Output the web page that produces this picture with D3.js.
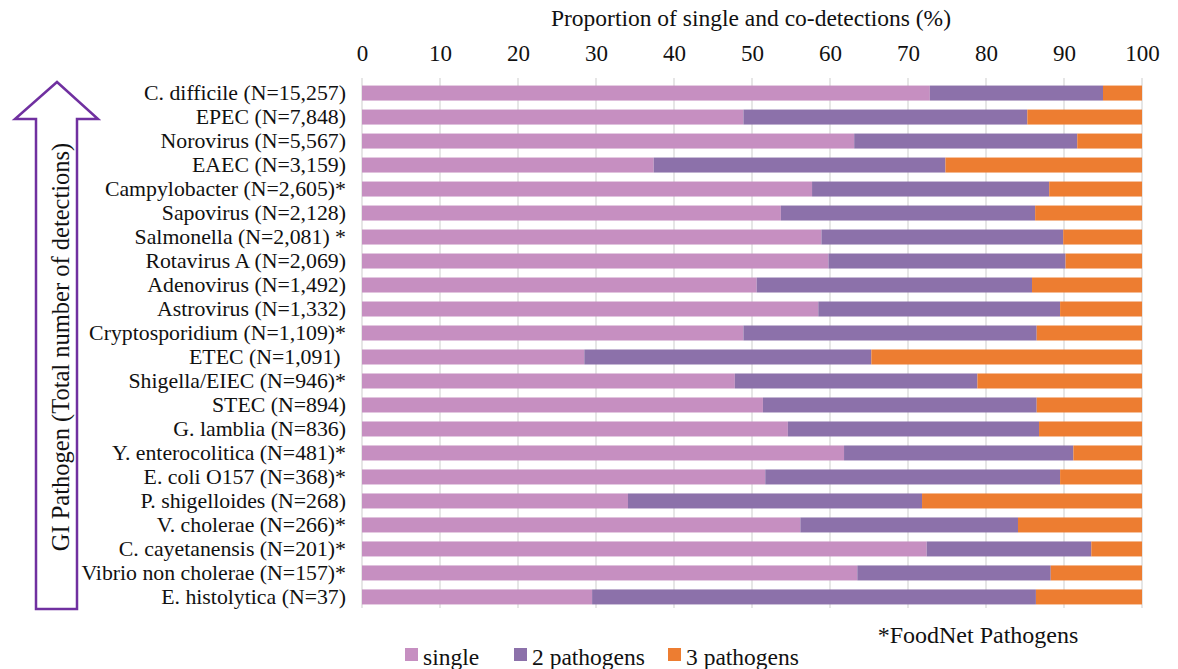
<!DOCTYPE html>
<html><head><meta charset="utf-8">
<script src="https://cdn.jsdelivr.net/npm/d3@7"></script>
<style>
html,body{margin:0;padding:0;background:#fff;}
text{font-family:"Liberation Serif","Times New Roman",serif;fill:#111;}
</style></head>
<body><svg id="c" width="1178" height="669"></svg>
<script>
const categories = ["C. difficile (N=15,257)","EPEC (N=7,848)","Norovirus (N=5,567)","EAEC (N=3,159)","Campylobacter (N=2,605)*","Sapovirus (N=2,128)","Salmonella (N=2,081) *","Rotavirus A (N=2,069)","Adenovirus (N=1,492)","Astrovirus (N=1,332)","Cryptosporidium (N=1,109)*","ETEC (N=1,091) ","Shigella/EIEC (N=946)*","STEC (N=894)","G. lamblia (N=836)","Y. enterocolitica (N=481)*","E. coli O157 (N=368)*","P. shigelloides (N=268)","V. cholerae (N=266)*","C. cayetanensis (N=201)*","Vibrio non cholerae (N=157)*","E. histolytica (N=37)"];
const single = [72.8,48.9,63.1,37.4,57.7,53.7,58.9,59.8,50.6,58.5,48.9,28.5,47.8,51.4,54.6,61.8,51.7,34.1,56.2,72.4,63.5,29.5];
const twoPathogens = [22.2,36.4,28.6,37.4,30.4,32.6,31.0,30.4,35.3,31.0,37.6,36.8,31.1,35.1,32.2,29.4,37.8,37.7,27.9,21.1,24.8,56.9];
const threePathogens = single.map((s,i)=>+(100 - s - twoPathogens[i]).toFixed(1));
const seriesNames = ["single","2 pathogens","3 pathogens"];
const colors = ["#C68FC1","#8C71AA","#ED7D31"];
const xTicks = [0,10,20,30,40,50,60,70,80,90,100];

const svg = d3.select("#c");
const x = d3.scaleLinear().domain([0,100]).range([362,1142]);
const y = d3.scaleBand().domain(categories).range([81,609]).paddingInner(0.375).paddingOuter(0.19);

// gridlines
svg.append("g").selectAll("line").data(xTicks).join("line")
  .attr("x1",d=>x(d)).attr("x2",d=>x(d)).attr("y1",78).attr("y2",608)
  .attr("stroke","#d9d9d9").attr("stroke-width",1.3);

// stacked bars
const rows = categories.map((c,i)=>({cat:c, single:single[i], two:twoPathogens[i], three:threePathogens[i]}));
const stack = d3.stack().keys(["single","two","three"])(rows);
svg.append("g").selectAll("g").data(stack).join("g").attr("fill",(d,i)=>colors[i])
  .selectAll("rect").data(d=>d).join("rect")
  .attr("x",d=>x(d[0])).attr("width",d=>x(d[1])-x(d[0]))
  .attr("y",d=>y(d.data.cat)).attr("height",y.bandwidth());

// top axis
const ax = svg.append("g").attr("transform","translate(0,61)")
  .call(d3.axisTop(x).tickValues(xTicks).tickSize(0).tickPadding(0));
ax.select(".domain").remove();
ax.selectAll("text").attr("font-size",23).attr("font-family","Liberation Serif").attr("fill","#111").attr("dy","0");

// category axis
const ay = svg.append("g").attr("transform","translate(346,0)")
  .call(d3.axisLeft(y).tickSize(0).tickPadding(0));
ay.select(".domain").remove();
ay.selectAll("text").attr("font-size",21.8).attr("font-family","Liberation Serif").attr("fill","#111").attr("text-anchor","end").style("white-space","pre");

// title
svg.append("text").attr("x",751).attr("y",26).attr("text-anchor","middle").attr("font-size",23.5)
  .text("Proportion of single and co-detections (%)");

// arrow
const ap = [[57,82],[98,119],[77,119],[77,609],[36,609],[36,119],[15,119]];
svg.append("path").attr("d","M"+ap.join("L")+"Z").attr("fill","none").attr("stroke","#7030A0").attr("stroke-width",2.5);
svg.append("text").attr("transform","translate(69,347) rotate(-90)").attr("text-anchor","middle").attr("font-size",24.5)
  .text("GI Pathogen (Total number of detections)");

// footnote
svg.append("text").attr("x",978).attr("y",643).attr("text-anchor","middle").attr("font-size",24).text("*FoodNet Pathogens");

// legend
const legX = [405,514,668];
const lg = svg.append("g").selectAll("g").data(seriesNames).join("g")
  .attr("transform",(d,i)=>`translate(${legX[i]},0)`);
lg.append("rect").attr("x",0).attr("y",648).attr("width",13).attr("height",13).attr("fill",(d,i)=>colors[i]);
lg.append("text").attr("x",18).attr("y",665).attr("font-size",23.5).text(d=>d);
</script></body></html>
